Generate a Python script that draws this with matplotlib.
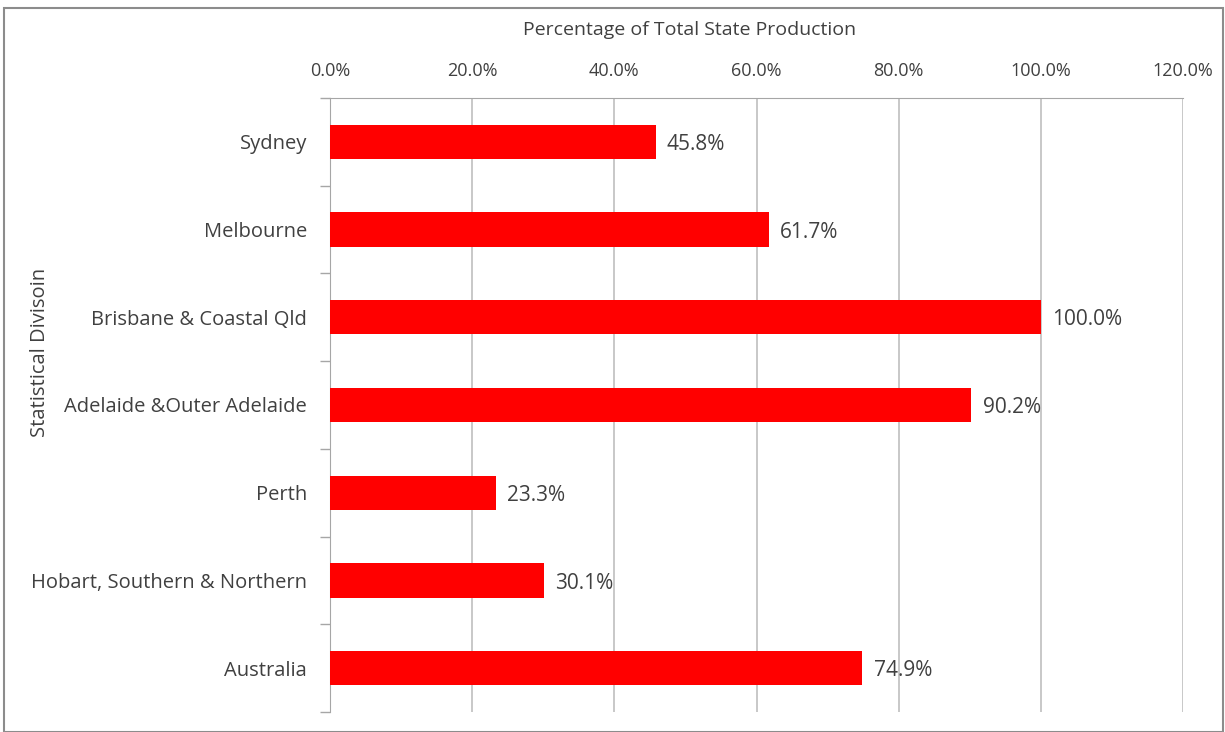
import numpy as np
import matplotlib.pyplot as plt
from matplotlib.patches import Rectangle
from matplotlib.ticker import FuncFormatter

plt.rcParams['font.family'] = ['Open Sans', 'DejaVu Sans']

# Data
divisions = ['Sydney', 'Melbourne', 'Brisbane & Coastal Qld', 'Adelaide &Outer Adelaide',
             'Perth', 'Hobart, Southern & Northern', 'Australia']
share = [45.8, 61.7, 100.0, 90.2, 23.3, 30.1, 74.9]
xticks = [0, 20, 40, 60, 80, 100, 120]

text_col = '#404040'
grid_col = '#bfbfbf'

fig = plt.figure(figsize=(12.25, 7.32), dpi=100)
ax = fig.add_axes([330 / 1225, 1 - 712 / 732, (1183 - 330) / 1225, (712 - 98) / 732])

y = np.arange(len(divisions))
ax.barh(y, share, height=0.39, color='#ff0000', zorder=3)

for yi, v in zip(y, share):
    ax.text(v + 1.6, yi + 0.03, f'{v:.1f}%', va='center', ha='left', fontsize=15, color=text_col, zorder=4)

ax.set_xlim(0, 120)
ax.set_ylim(len(divisions) - 0.5, -0.5)
ax.set_xticks(xticks)
ax.xaxis.set_major_formatter(FuncFormatter(lambda v, p: f'{v:.1f}%'))
ax.xaxis.tick_top()

# axis titles placed like the original
fig.text(690 / 1225, 1 - 30 / 732, 'Percentage of Total State Production', ha='center', va='center',
         fontsize=14, color=text_col)
fig.text(40 / 1225, 1 - 352 / 732, 'Statistical Divisoin', ha='center', va='center', rotation=90,
         fontsize=14.5, color=text_col)

ax.set_yticks(y)
ax.set_yticklabels(divisions)
ax.set_yticks(np.arange(len(divisions) + 1) - 0.5, minor=True)
ax.tick_params(axis='y', which='major', length=0, pad=16.5, labelsize=14.5, labelcolor=text_col)
ax.tick_params(axis='y', which='minor', length=7, color='#a6a6a6', width=1)
ax.tick_params(axis='x', which='major', length=0, pad=13, labelsize=13, labelcolor=text_col)

ax.grid(axis='x', color=grid_col, linewidth=1.2, zorder=0)
for side in ['right', 'bottom']:
    ax.spines[side].set_visible(False)
ax.spines['top'].set_color('#a6a6a6')
ax.spines['left'].set_color('#a6a6a6')

# outer frame of the chart area
fig.patches.append(Rectangle((4 / 1225, 0), 1 - 6 / 1225, 1 - 8 / 732, transform=fig.transFigure,
                             fill=False, edgecolor='#8c8c8c', linewidth=1.5))

fig.savefig('out.png', dpi=100)
